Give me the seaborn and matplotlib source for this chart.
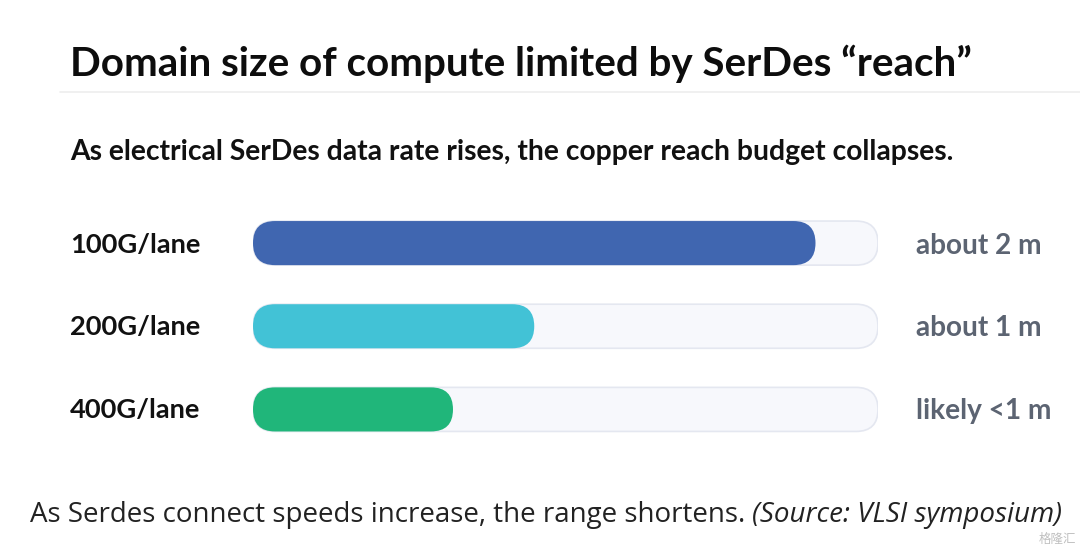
import matplotlib
matplotlib.use("Agg")
import matplotlib.pyplot as plt
import seaborn as sns
import pandas as pd
from matplotlib.patches import FancyBboxPatch

# data: share of the copper reach track filled (percent of the bar track)
lanes = ["100G/lane", "200G/lane", "400G/lane"]
reach_pct = [90, 45, 32]
reach_labels = ["about 2 m", "about 1 m", "likely <1 m"]
bar_colors = ["#4066B0", "#42C2D6", "#20B67A"]
track_max = 100

title = "Domain size of compute limited by SerDes \u201creach\u201d"
subtitle = "As electrical SerDes data rate rises, the copper reach budget collapses."
caption = "As Serdes connect speeds increase, the range shortens. "
source = "(Source: VLSI symposium)"

W, H = 1080, 546
sns.set_theme(style="white")
plt.rcParams["font.family"] = ["Lato", "DejaVu Sans"]

fig = plt.figure(figsize=(W / 100, H / 100), dpi=100)
fig.patch.set_facecolor("white")

def px(x, y):
    # pixel (from top-left) to figure fraction
    return x / W, 1 - y / H

def fit(t, width):
    r = fig.canvas.get_renderer()
    for _ in range(4):
        w = t.get_window_extent(r).width
        t.set_fontsize(t.get_fontsize() * width / w)

# bar axes placed on the track region
left, right, top, bottom = 253, 878, 201.5, 451
ax = fig.add_axes([left / W, 1 - bottom / H, (right - left) / W, (bottom - top) / H])
df = pd.DataFrame({"lane": lanes, "reach": reach_pct, "track": [track_max] * len(lanes)})
sns.barplot(data=df, y="lane", x="track", color="#F7F8FC", saturation=1, width=0.53, ax=ax,
            edgecolor="#E4E7F0", linewidth=1.2)
sns.barplot(data=df, y="lane", x="reach", hue="lane", palette=bar_colors, saturation=1,
            width=0.53, legend=False, ax=ax, linewidth=0)
ax.set_xlim(0, track_max)
ax.set_ylim(len(lanes) - 0.5, -0.5)
ax.axis("off")

# turn rectangles into rounded pills
ax_w = right - left
ax_h = bottom - top
aspect = ((len(lanes)) / ax_h) / (track_max / ax_w)
for p in list(ax.patches):
    x0, y0 = p.get_x(), p.get_y()
    w, h = p.get_width(), p.get_height()
    r = h / aspect / 2
    pill = FancyBboxPatch((x0, y0), w, h,
                          boxstyle=f"round,pad=0,rounding_size={r}",
                          mutation_aspect=aspect,
                          facecolor=p.get_facecolor(), edgecolor=p.get_edgecolor(),
                          linewidth=p.get_linewidth(), zorder=p.get_zorder())
    p.remove()
    ax.add_patch(pill)

# titles
t = fig.text(*px(70, 76), title, fontsize=26, fontweight="bold", color="#0d0d0d",
             va="baseline", ha="left")
fit(t, 905)
fig.add_artist(plt.Line2D([60 / W, 1], [1 - 92 / H] * 2, color="#EEEEEE", lw=1.2))
t = fig.text(*px(70, 160), subtitle, fontsize=17, fontweight="bold", color="#111111",
             va="baseline", ha="left")
fit(t, 880)

# row labels
r = fig.canvas.get_renderer()
centers = [243, 325, 408]
right_texts = []
for lane, lab, cy in zip(lanes, reach_labels, centers):
    t = fig.text(*px(70, cy), lane, fontsize=16, fontweight="bold", color="#111111",
                 va="center_baseline", ha="left")
    fit(t, 130)
    right_texts.append(fig.text(*px(916, cy), lab, fontsize=16, fontweight="bold",
                                color="#5C6472", va="center_baseline", ha="left"))
w0 = right_texts[0].get_window_extent(r).width
for tt in right_texts:
    tt.set_fontsize(tt.get_fontsize() * 126 / w0)

# caption
c = fig.text(*px(30, 522), caption, fontsize=17, color="#222222", family="Open Sans",
             va="baseline", ha="left")
cw = c.get_window_extent(r)
s = fig.text(cw.x1 / W, 1 - 522 / H, source, fontsize=17, color="#222222",
             family="Open Sans", style="italic", va="baseline", ha="left")
tot = s.get_window_extent(r).x1 - cw.x0
k = (1065 - 30) / tot
c.set_fontsize(c.get_fontsize() * k)
s.set_fontsize(s.get_fontsize() * k)
cw = c.get_window_extent(r)
s.set_x(cw.x1 / W)

fig.text(*px(1076, 539), "\u683c\u9686\u6c47", fontsize=9, color="#C0C0C0",
         family=["Noto Sans CJK SC", "DejaVu Sans"], va="center", ha="right")

fig.savefig("out.png", dpi=100, facecolor="white")
